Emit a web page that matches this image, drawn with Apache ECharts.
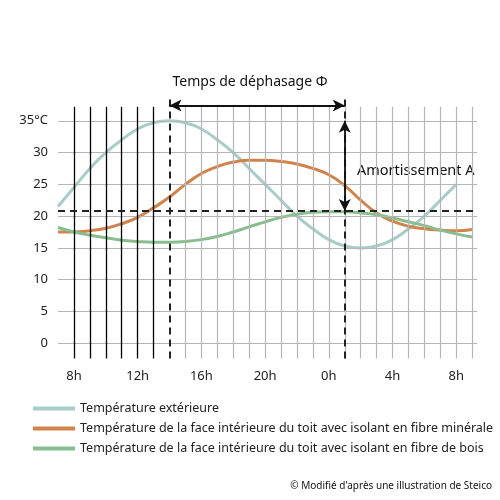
<!DOCTYPE html>
<html><head><meta charset="utf-8">
<script src="https://cdn.jsdelivr.net/npm/echarts@6/dist/echarts.min.js"></script>
<style>html,body{margin:0;background:#fff}#c{width:500px;height:500px}</style>
</head><body><div id="c"></div>
<script>
let hours = [7,8,9,10,11,12,13,14,15,16,17,18,19,20,21,22,23,24,25,26,27,28,29,30,31,32,33];
let exterieur = [21.5,24.5,27.5,30,32,33.7,34.7,35,34.7,33.7,32,30,27.5,25,22.5,20,18,16.3,15.3,15,15.3,16.3,18,20,22.5,25];
let minerale = [17.5,17.5,17.7,18.1,18.8,19.8,21.3,23,25,26.7,27.8,28.5,28.8,28.8,28.6,28.2,27.5,26.5,24.8,22.5,20.5,19.2,18.4,18,17.8,17.7,17.9];
let bois = [18.2,17.5,17,16.6,16.2,16,15.9,15.9,16,16.3,16.8,17.5,18.3,19.1,19.8,20.3,20.6,20.7,20.7,20.5,20.2,19.7,19.1,18.5,17.8,17.2,16.7];
let xTickLabels = {8:'8h',12:'12h',16:'16h',20:'20h',24:'0h',28:'4h',32:'8h'};
let yTicks = [0,5,10,15,20,25,30,35];
let names = ['Température extérieure',
  'Température de la face intérieure du toit avec isolant en fibre minérale',
  'Température de la face intérieure du toit avec isolant en fibre de bois'];
let colors = ['#a8ccc7','#d0834b','#88be8e'];
let meanLevel = 20.8, tMax = 14, tLag = 25;

let pair = arr => arr.map((v,i)=>[hours[i],v]);
let grid = [];
yTicks.forEach(y=>grid.push([{coord:[7,y]},{coord:[33.3,y]}]));
hours.slice(1).forEach(h=>{
  if (h===tMax) return;
  grid.push([{coord:[h,-2.4],lineStyle:{color:h<tMax?'#000':'#b5b5b5',width:h<tMax?1.3:1.2}},{coord:[h,37.2]}]);
});
let dash = {type:[7,5],color:'#222',width:2};
let deco = [
  [{coord:[7,meanLevel],lineStyle:dash},{coord:[33.3,meanLevel]}],
  [{coord:[tMax,-2.4],lineStyle:dash},{coord:[tMax,38.6]}],
  [{coord:[tLag,-2.4],lineStyle:dash},{coord:[tLag,38.6]}]
];
let arrows = [
  [{coord:[tMax,37.4]},{coord:[tLag,37.4]}],
  [{coord:[tLag,35]},{coord:[tLag,meanLevel]}]
];

let chart = echarts.init(document.getElementById('c'));
chart.setOption({
  animation:false,
  textStyle:{fontFamily:'Noto Sans'},
  grid:{left:58,right:23,top:89,bottom:125},
  xAxis:{type:'value',min:7,max:33.3,interval:1,splitLine:{show:false},axisLine:{show:false},axisTick:{show:false},
    axisLabel:{color:'#222',fontSize:13,margin:-5,showMinLabel:true,formatter:v=>xTickLabels[v]||''}},
  yAxis:{type:'value',min:-5,max:40,interval:5,splitLine:{show:false},axisLine:{show:false},axisTick:{show:false},
    axisLabel:{color:'#222',fontSize:13,margin:10,formatter:v=>v<0||v>35?'':(v===35?'35°C':v)}},
  legend:{orient:'vertical',left:28,top:397,itemGap:7,itemWidth:42,itemHeight:4,icon:'rect',
    textStyle:{fontSize:12.5,color:'#222'},data:names},
  graphic:[
    {type:'text',left:'center',top:75,style:{text:'Temps de déphasage Φ',fontSize:14,fill:'#111',fontFamily:'Noto Sans'},x:10},
    {type:'text',left:357,top:163,style:{text:'Amortissement A',fontSize:14.5,fill:'#111',fontFamily:'Noto Sans'}},
    {type:'text',right:8,top:481,style:{text:'© Modifié d\'après une illustration de Steico',fontSize:10,fill:'#111',fontFamily:'Noto Sans'}}
  ],
  series:[
    {type:'line',data:[],silent:true,markLine:{silent:true,symbol:'none',label:{show:false},animation:false,
      lineStyle:{color:'#b5b5b5',width:1.2,type:'solid'},data:grid}},
    {name:names[0],type:'line',smooth:true,showSymbol:false,data:pair(exterieur),lineStyle:{width:3,color:colors[0]},itemStyle:{color:colors[0]}},
    {name:names[1],type:'line',smooth:true,showSymbol:false,data:pair(minerale),lineStyle:{width:3,color:colors[1]},itemStyle:{color:colors[1]}},
    {name:names[2],type:'line',smooth:true,showSymbol:false,data:pair(bois),lineStyle:{width:3,color:colors[2]},itemStyle:{color:colors[2]}},
    {type:'line',data:[],silent:true,z:5,markLine:{silent:true,symbol:'none',label:{show:false},data:deco}},
    {type:'line',data:[],silent:true,z:6,markLine:{silent:true,symbol:['arrow','arrow'],symbolSize:[9,12],label:{show:false},
      lineStyle:{color:'#111',width:1.8,type:'solid'},data:arrows}}
  ]
});
</script></body></html>
